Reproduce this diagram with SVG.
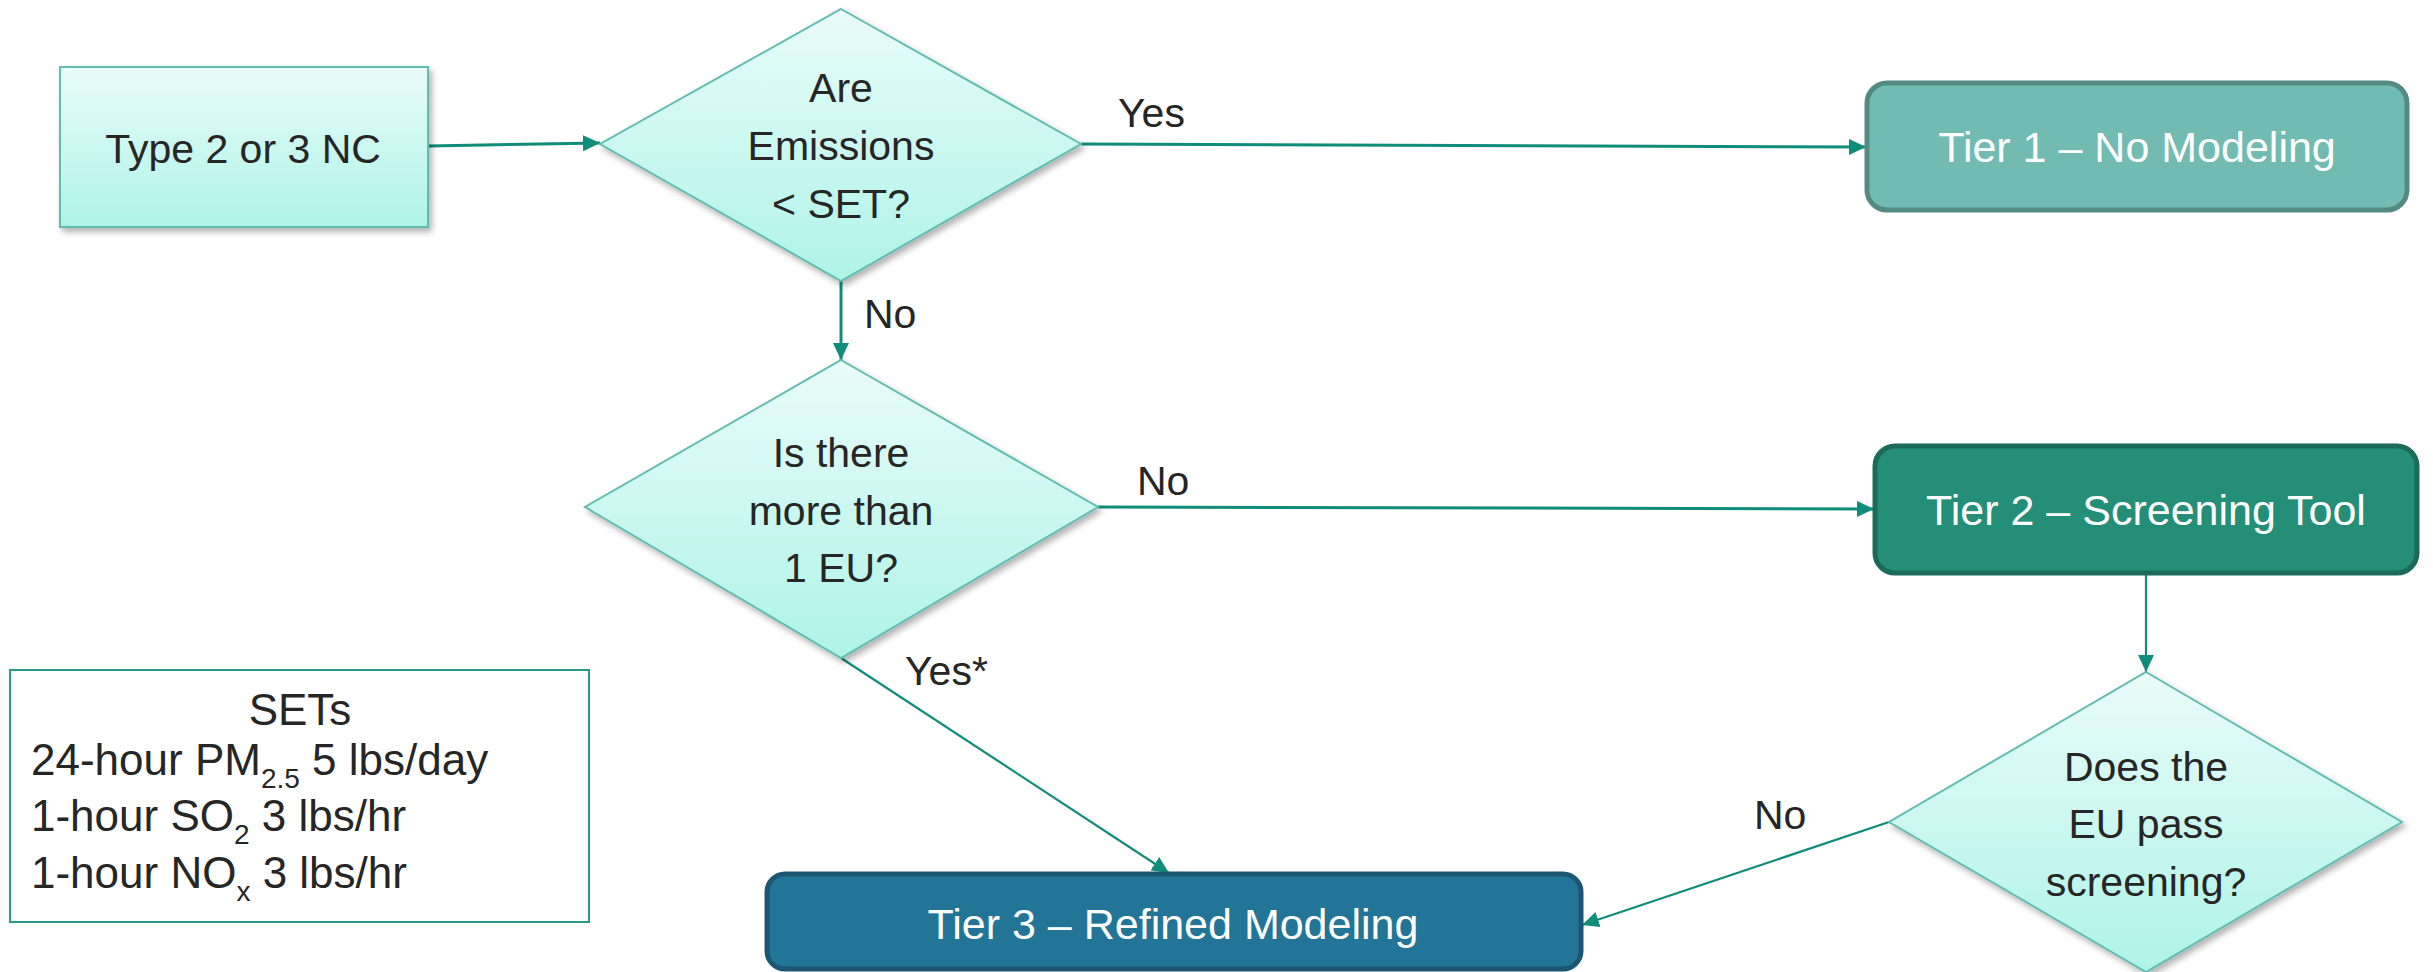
<svg xmlns="http://www.w3.org/2000/svg" width="2433" height="972" viewBox="0 0 2433 972">
  <style>
    .lbl { font-family: "Liberation Sans", Arial, sans-serif; font-size: 41px; fill: #262626; }
    .mid { text-anchor: middle; }
    .tier { font-family: "Liberation Sans", Arial, sans-serif; font-size: 43px; fill: #ffffff; text-anchor: middle; }
    .light { fill: url(#paleFill); stroke: #62bcb0; stroke-width: 2; filter: url(#softShadow); }
    .conn { fill: none; stroke: #0f8c7a; stroke-width: 3; }
    .conn.thin { stroke-width: 2.2; }
    .legend { font-size: 44px; }
    .sub { font-size: 28px; }
  </style>
  <defs>
    <linearGradient id="paleFill" x1="0" y1="0" x2="0" y2="1">
      <stop offset="0" stop-color="#e9fcf9"/>
      <stop offset="1" stop-color="#aef3e8"/>
    </linearGradient>
    <filter id="softShadow" x="-10%" y="-10%" width="125%" height="130%">
      <feDropShadow dx="3" dy="4" stdDeviation="3" flood-color="#000000" flood-opacity="0.3"/>
    </filter>
    <marker id="arrow" markerUnits="userSpaceOnUse" markerWidth="18" markerHeight="16" refX="17" refY="8" orient="auto">
      <path d="M0,0 L17,8 L0,16 z" fill="#0f8c7a"/>
    </marker>
  </defs>

  <!-- connectors -->
  <g id="connectors">
    <line class="conn" x1="428" y1="146" x2="600" y2="143" marker-end="url(#arrow)"/>
    <line class="conn" x1="1081" y1="144" x2="1866" y2="147" marker-end="url(#arrow)"/>
    <line class="conn" x1="841" y1="281" x2="841" y2="360" marker-end="url(#arrow)"/>
    <line class="conn" x1="1098" y1="507" x2="1874" y2="509" marker-end="url(#arrow)"/>
    <line class="conn thin" x1="841" y1="658" x2="1169" y2="873" marker-end="url(#arrow)"/>
    <line class="conn thin" x1="2146" y1="575" x2="2146" y2="672" marker-end="url(#arrow)"/>
    <line class="conn thin" x1="1889" y1="822" x2="1582" y2="925" marker-end="url(#arrow)"/>
    <text class="lbl" x="1118" y="127">Yes</text>
    <text class="lbl" x="864" y="328">No</text>
    <text class="lbl" x="1137" y="495">No</text>
    <text class="lbl" x="905" y="685">Yes*</text>
    <text class="lbl" x="1754" y="829">No</text>
  </g>

  <!-- start node -->
  <g id="start">
    <rect class="light" x="60" y="67" width="368" height="160" stroke="#79c9bd" stroke-width="2.5"/>
    <text class="lbl mid" x="243" y="163">Type 2 or 3 NC</text>
  </g>

  <!-- decision: emissions below SET -->
  <g id="decisionEmissions">
    <polygon class="light" points="841,9 1081,144 841,281 600,144"/>
    <text class="lbl mid" x="841" y="102">Are</text>
    <text class="lbl mid" x="841" y="160">Emissions</text>
    <text class="lbl mid" x="841" y="218">&lt; SET?</text>
  </g>

  <!-- decision: number of emission units -->
  <g id="decisionUnits">
    <polygon class="light" points="841,360 1098,507 841,658 585,507"/>
    <text class="lbl mid" x="841" y="467">Is there</text>
    <text class="lbl mid" x="841" y="525">more than</text>
    <text class="lbl mid" x="841" y="582">1 EU?</text>
  </g>

  <!-- decision: screening result -->
  <g id="decisionScreening">
    <polygon class="light" points="2146,672 2402,822 2146,972 1889,822"/>
    <text class="lbl mid" x="2146" y="781">Does the</text>
    <text class="lbl mid" x="2146" y="838">EU pass</text>
    <text class="lbl mid" x="2146" y="896">screening?</text>
  </g>

  <!-- tier outcomes -->
  <g id="tier1">
    <rect x="1867" y="83" width="540" height="127" rx="20" fill="#72bbb3" stroke="#558a84" stroke-width="5"/>
    <text class="tier" x="2137" y="162">Tier 1 – No Modeling</text>
  </g>
  <g id="tier2">
    <rect x="1875" y="446" width="542" height="127" rx="20" fill="#248e78" stroke="#1c6a5a" stroke-width="5"/>
    <text class="tier" x="2146" y="525">Tier 2 – Screening Tool</text>
  </g>
  <g id="tier3">
    <rect x="767" y="874" width="814" height="95" rx="18" fill="#237598" stroke="#1c5670" stroke-width="5"/>
    <text class="tier" x="1173" y="939">Tier 3 – Refined Modeling</text>
  </g>

  <!-- thresholds legend -->
  <g id="setsLegend">
    <rect x="10" y="670" width="579" height="252" fill="#ffffff" stroke="#2a9a88" stroke-width="2"/>
    <text class="lbl legend mid" x="300" y="725">SETs</text>
    <text class="lbl legend" x="31" y="775">24-hour PM<tspan class="sub" dy="13">2.5</tspan><tspan dy="-13"> 5 lbs/day</tspan></text>
    <text class="lbl legend" x="31" y="831">1-hour SO<tspan class="sub" dy="13">2</tspan><tspan dy="-13"> 3 lbs/hr</tspan></text>
    <text class="lbl legend" x="31" y="888">1-hour NO<tspan class="sub" dy="13">x</tspan><tspan dy="-13"> 3 lbs/hr</tspan></text>
  </g>
</svg>
